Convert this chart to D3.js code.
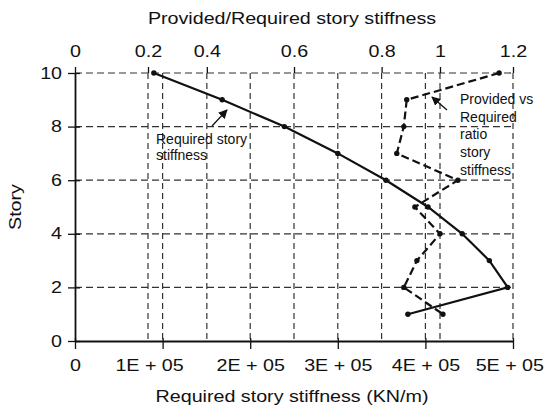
<!DOCTYPE html>
<html><head><meta charset="utf-8">
<script src="https://cdn.jsdelivr.net/npm/d3@7"></script>
<style>
body{margin:0;background:#fff}
text{font-family:"Liberation Sans",Arial,sans-serif;fill:#111}
</style></head><body>
<svg id="c" width="544" height="410"></svg>
<script>
// ---- data ----
const stories = [10, 9, 8, 7, 6, 5, 4, 3, 2, 1];
const requiredStiffness = [90000, 168000, 239000, 300000, 355000, 403000, 442000, 473000, 494000, 380000];
const providedRatio = [1.162, 0.886, 0.876, 0.852, 1.049, 0.914, 1.0, 0.921, 0.876, 1.008];
const storyTicks = [0, 2, 4, 6, 8, 10];
const bottomTicks = [0, 1e5, 2e5, 3e5, 4e5, 5e5];
const bottomTickLabels = ["0", "1E + 05", "2E + 05", "3E + 05", "4E + 05", "5E + 05"];
const topTicks = [0, 0.2, 0.4, 0.6, 0.8, 1, 1.2];
const topTickLabels = ["0", "0.2", "0.4", "0.6", "0.8", "1", "1.2"];

// ---- layout ----
const svg = d3.select("#c");
const X0 = 75, X1 = 513, Y0 = 73, Y1 = 341;
const SX = 1.23; // horizontal stretch of axis lettering
const FS = 16;

const xB = d3.scaleLinear().domain([0, 5e5]).range([X0, X1]);
// printed top axis is not evenly spaced; place its labels where they were printed
const topFrac = [0, 1/6, 0.301, 0.5, 0.70, 5/6, 1];
const xT = d3.scaleLinear().domain(topTicks).range(topFrac.map(f => X0 + f * (X1 - X0)));
const y = d3.scaleLinear().domain([0, 10]).range([Y1, Y0]);

const gridStyle = g => g.attr("stroke", "#333").attr("stroke-width", 1.2).attr("stroke-dasharray", "7,4").attr("fill", "none");

// horizontal gridlines
svg.append("g").call(gridStyle).selectAll("line")
  .data(storyTicks.filter(d => d > 0)).join("line")
  .attr("x1", X0).attr("x2", X1).attr("y1", d => y(d)).attr("y2", d => y(d));
// vertical gridlines (bottom and top scales)
const vx = bottomTicks.filter(d => d > 0).map(d => xB(d)).concat(topTicks.filter(d => d > 0 && d < 1.2).map(d => xT(d)));
svg.append("g").call(gridStyle).attr("stroke-dasharray", "6,4").selectAll("line")
  .data(vx).join("line")
  .attr("x1", d => d).attr("x2", d => d).attr("y1", Y0).attr("y2", Y1);

// axes
const styleAxis = (g) => {
  g.selectAll("path.domain").attr("stroke", "#111").attr("stroke-width", 1.8);
  g.selectAll(".tick line").attr("stroke", "#111").attr("stroke-width", 1.3);
  g.selectAll(".tick text").attr("font-size", FS).attr("font-family", '"Liberation Sans",Arial,sans-serif').attr("fill", "#111");
};

const axB = svg.append("g").attr("transform", `translate(0,${Y1})`)
  .call(d3.axisBottom(xB).tickValues(bottomTicks).tickFormat((d, i) => bottomTickLabels[i]).tickSize(8).tickPadding(11).tickSizeOuter(0));
styleAxis(axB);
axB.selectAll(".tick line").attr("y1", -3);
axB.selectAll(".tick text").attr("transform", `scale(${SX},1)`)
  .attr("dx", (d, i) => i === 1 ? -11 : (i === 5 ? -3 : 0));

const axL = svg.append("g").attr("transform", `translate(${X0},0)`)
  .call(d3.axisLeft(y).tickValues(storyTicks).tickSize(7).tickSizeOuter(0));
styleAxis(axL);
axL.selectAll(".tick line").attr("x1", 5);
axL.selectAll(".tick text").attr("x", -13 / SX).attr("transform", `scale(${SX},1)`);

const axT = svg.append("g").attr("transform", `translate(0,${Y0})`)
  .call(d3.axisTop(xT).tickValues(topTicks).tickFormat((d, i) => topTickLabels[i]).tickSize(6).tickPadding(10));
styleAxis(axT);
axT.select("path.domain").remove();
axT.selectAll(".tick text").attr("transform", `scale(${SX},1)`);

// axis titles
const title = (x, yy, txt, rot) => svg.append("text")
  .attr("transform", `translate(${x},${yy})` + (rot ? " rotate(-90)" : "") + ` scale(${SX},1)`)
  .attr("text-anchor", "middle").attr("font-size", FS).text(txt);
title(292, 24, "Provided/Required story stiffness");
title(292, 402, "Required story stiffness (KN/m)");
title(21, 207, "Story", true);

// series
const pts1 = stories.map((s, i) => [xB(requiredStiffness[i]), y(s)]);
const pts2 = stories.map((s, i) => [xT(providedRatio[i]), y(s)]);
const line = d3.line();
svg.append("path").attr("d", line(pts1)).attr("fill", "none").attr("stroke", "#111").attr("stroke-width", 2.2);
svg.append("path").attr("d", line(pts2)).attr("fill", "none").attr("stroke", "#111").attr("stroke-width", 2.2).attr("stroke-dasharray", "8,4");
svg.append("g").selectAll("circle").data(pts1.concat(pts2)).join("circle")
  .attr("cx", d => d[0]).attr("cy", d => d[1]).attr("r", 2.7).attr("fill", "#111");

// annotations
const defs = svg.append("defs");
defs.append("marker").attr("id", "ah").attr("viewBox", "0 0 10 10").attr("refX", 9).attr("refY", 5)
  .attr("markerWidth", 7).attr("markerHeight", 7).attr("orient", "auto")
  .append("path").attr("d", "M0,0 L10,5 L0,10 z").attr("fill", "#111");
const arrow = (a, b) => svg.append("line").attr("x1", a[0]).attr("y1", a[1]).attr("x2", b[0]).attr("y2", b[1])
  .attr("stroke", "#111").attr("stroke-width", 1.3).attr("marker-end", "url(#ah)");
arrow([212, 126], [227, 110]);
arrow([447, 110], [432, 97]);

const note = (x, y0, lines, lh) => {
  const t = svg.append("text").attr("font-size", 14);
  lines.forEach((l, i) => t.append("tspan").attr("x", x).attr("y", y0 + i * lh).text(l));
};
note(156, 144, ["Required story", "stiffness"], 16);
note(460, 104, ["Provided vs", "Required", "ratio", "story", "stiffness"], 17.7);
</script>
</body></html>
